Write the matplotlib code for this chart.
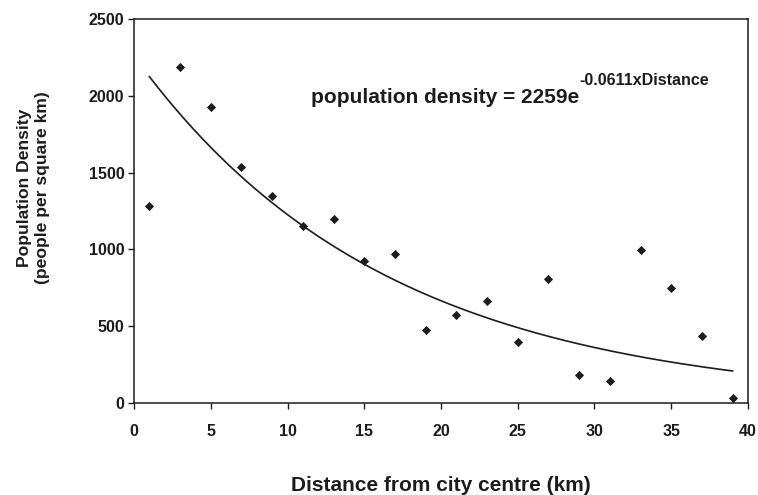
import numpy as np
import matplotlib.pyplot as plt

plt.rcParams['font.family'] = ['Liberation Sans', 'DejaVu Sans']

# survey points: distance from centre (km) and density (people per km2)
distance = [1, 3, 5, 7, 9, 11, 13, 15, 17, 19, 21, 23, 25, 27, 29, 31, 33, 35, 37, 39]
density = [1285, 2190, 1925, 1535, 1350, 1150, 1200, 925, 970, 475,
           575, 665, 400, 805, 180, 140, 995, 750, 435, 35]

# fitted exponential trend, coefficients as printed on the chart
fit_a = 2259
fit_b = 0.0611

xticks = [0, 5, 10, 15, 20, 25, 30, 35, 40]
yticks = [0, 500, 1000, 1500, 2000, 2500]

ink = '#1c1c1c'

fig = plt.figure(figsize=(7.58, 4.95), dpi=100)
ax = fig.add_axes([0.1768, 0.1859, 0.81, 0.7757])

ax.scatter(distance, density, marker='D', s=22, color=ink, zorder=3, linewidths=0)

xs = np.linspace(min(distance), max(distance), 200)
ax.plot(xs, fit_a * np.exp(-fit_b * xs), color=ink, linewidth=1.2)

ax.set_xlim(0, 40)
ax.set_ylim(0, 2500)
ax.set_xticks(xticks)
ax.set_yticks(yticks)

for s in ax.spines.values():
    s.set_linewidth(1.1)
    s.set_color(ink)

ax.tick_params(axis='both', direction='out', length=4, width=1.0, color=ink,
               labelsize=11.5, labelcolor=ink)
ax.tick_params(axis='x', pad=11)
ax.tick_params(axis='y', pad=3)
for lbl in ax.get_xticklabels() + ax.get_yticklabels():
    lbl.set_fontweight('bold')

ax.set_xlabel('Distance from city centre (km)', fontsize=15, fontweight='bold', color=ink)
ax.xaxis.set_label_coords(0.5, -0.19)
ax.set_ylabel('Population Density\n(people per square km)', fontsize=12.6,
              fontweight='bold', color=ink, linespacing=1.2)
ax.yaxis.set_label_coords(-0.137, 0.56)

# trend equation with superscript exponent
eq = ax.text(11.53, 1953, 'population density = 2259e', fontsize=15,
             fontweight='bold', color=ink, va='baseline', ha='left')
ax.annotate('-0.0611xDistance', xy=(1.0, 0.0), xycoords=eq,
            xytext=(0.3, 16.0), textcoords='offset points', fontsize=11.5,
            fontweight='bold', color=ink, va='baseline', ha='left')

fig.savefig('out.png', dpi=100)
